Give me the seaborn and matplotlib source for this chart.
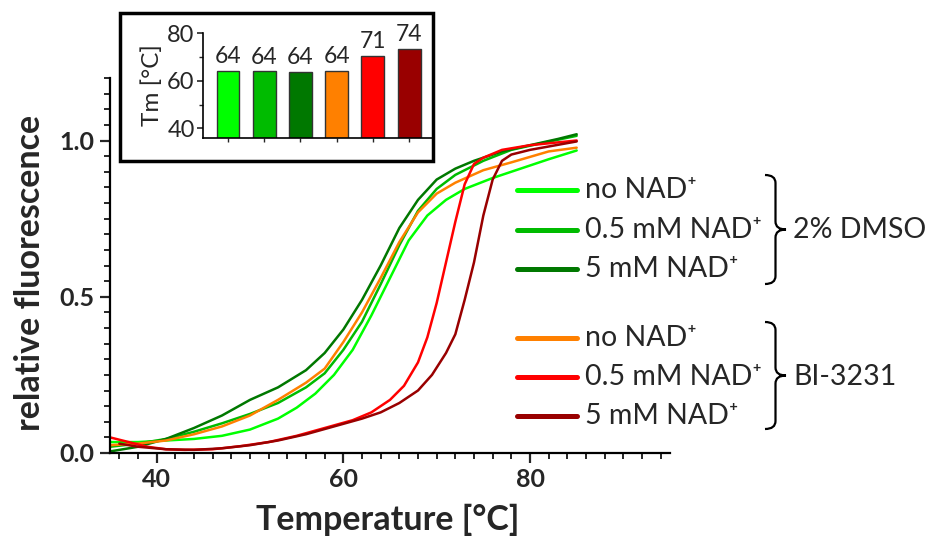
import matplotlib
matplotlib.use("Agg")
import matplotlib.pyplot as plt
from matplotlib.lines import Line2D
from matplotlib.patches import Rectangle, PathPatch
from matplotlib.path import Path
from matplotlib.ticker import MultipleLocator, NullFormatter
import pandas as pd
import seaborn as sns

# ---- melting curves (temperature in degC, relative fluorescence)
t_dmso_0 = [35, 38, 41, 44, 47, 50, 53, 55, 57, 59, 61, 63, 65, 67, 69, 71, 73, 76, 79, 82, 85]
f_dmso_0 = [0.035, 0.035, 0.04, 0.045, 0.055, 0.075, 0.11, 0.145, 0.19, 0.25, 0.33, 0.44, 0.56,
            0.68, 0.76, 0.81, 0.845, 0.88, 0.91, 0.94, 0.968]

t_dmso_05 = [35, 38, 41, 44, 47, 50, 53, 56, 58, 60, 62, 64, 66, 68, 70, 72, 75, 78, 81, 85]
f_dmso_05 = [0.02, 0.03, 0.045, 0.068, 0.095, 0.125, 0.16, 0.21, 0.255, 0.33, 0.42, 0.54, 0.665,
             0.775, 0.845, 0.89, 0.935, 0.97, 0.99, 1.015]

t_dmso_5 = [35, 38, 41, 44, 47, 50, 53, 56, 58, 60, 62, 64, 66, 68, 70, 72, 74, 77, 80, 83, 85]
f_dmso_5 = [0.005, 0.02, 0.045, 0.08, 0.12, 0.17, 0.21, 0.265, 0.32, 0.395, 0.49, 0.60, 0.72,
            0.81, 0.875, 0.91, 0.935, 0.965, 0.985, 1.005, 1.02]

t_bi_0 = [35, 38, 41, 44, 47, 50, 53, 56, 58, 60, 62, 64, 66, 68, 70, 72, 75, 78, 82, 85]
f_bi_0 = [0.025, 0.03, 0.04, 0.06, 0.085, 0.12, 0.17, 0.225, 0.27, 0.355, 0.45, 0.56, 0.675,
          0.77, 0.83, 0.865, 0.905, 0.93, 0.965, 0.977]

t_bi_05 = [35, 37, 39, 41, 43, 46, 49, 52, 55, 58, 61, 63, 65, 66.5, 68, 69, 70, 71, 72, 73,
           74, 75, 77, 80, 85]
f_bi_05 = [0.05, 0.035, 0.02, 0.012, 0.01, 0.012, 0.022, 0.035, 0.055, 0.08, 0.105, 0.13, 0.17,
           0.215, 0.29, 0.37, 0.48, 0.61, 0.74, 0.86, 0.925, 0.945, 0.97, 0.985, 1.0]

t_bi_5 = [36, 38, 41, 44, 47, 50, 53, 56, 59, 62, 64, 66, 68, 69.5, 71, 72, 73, 74, 75, 76, 77,
          78, 80, 85]
f_bi_5 = [0.03, 0.02, 0.012, 0.01, 0.015, 0.025, 0.04, 0.06, 0.085, 0.11, 0.13, 0.16, 0.2, 0.25,
          0.32, 0.38, 0.49, 0.61, 0.76, 0.875, 0.935, 0.955, 0.97, 0.997]

# ---- inset: melting temperatures
tm_values = [64.1, 63.9, 63.8, 64.1, 70.5, 73.3]
tm_labels = ["64", "64", "64", "64", "71", "74"]

series = ["DMSO no", "DMSO 0.5", "DMSO 5", "BI no", "BI 0.5", "BI 5"]
legend_text = ["no NAD\u207a", "0.5 mM NAD\u207a", "5 mM NAD\u207a"] * 2
colors = ["#00ff00", "#00bb00", "#007800", "#ff8000", "#ff0000", "#990000"]

curves = [(t_dmso_0, f_dmso_0), (t_dmso_05, f_dmso_05), (t_dmso_5, f_dmso_5),
          (t_bi_0, f_bi_0), (t_bi_05, f_bi_05), (t_bi_5, f_bi_5)]
rows = []
for name, (tt, ff) in zip(series, curves):
    for t, f in zip(tt, ff):
        rows.append({"series": name, "temp": t, "fluor": f})
df = pd.DataFrame(rows)

sns.set_style("ticks")
plt.rcParams["font.family"] = ["Lato", "DejaVu Sans"]

W, H = 930, 545
fig = plt.figure(figsize=(W / 100, H / 100), dpi=100)


def fx(x):
    return x / W


def fy(y):
    return 1 - y / H


# ---- main axes
ax = fig.add_axes([fx(110), fy(453), (670 - 110) / W, (453 - 78) / H])
sns.lineplot(data=df, x="temp", y="fluor", hue="series", hue_order=series,
             palette=colors, estimator=None, lw=1.8, legend=False, ax=ax)
ax.set_xlim(35, 95)
ax.set_ylim(0, 1.2)
ax.xaxis.set_minor_locator(MultipleLocator(2))
ax.yaxis.set_minor_locator(MultipleLocator(0.05))
ax.set_xticks([40, 60, 80])
ax.set_yticks([0, 0.5, 1.0])
ax.set_yticklabels(["0.0", "0.5", "1.0"])
for s in ["top", "right"]:
    ax.spines[s].set_visible(False)
for s in ["left", "bottom"]:
    ax.spines[s].set_linewidth(1.6)
    ax.spines[s].set_color("black")
ax.tick_params(which="major", direction="out", length=7, width=1.6, labelsize=18, pad=4)
ax.tick_params(which="minor", direction="out", length=4, width=1.4)
for lab in ax.get_xticklabels() + ax.get_yticklabels():
    lab.set_fontweight("bold")
ax.set_xlabel("")
ax.set_ylabel("")

fig.text(fx(30), fy(273), "relative fluorescence", rotation=90, ha="center", va="center",
         fontsize=24.5, fontweight="bold")
fig.text(fx(388), fy(520), "Temperature [\u00b0C]", ha="center", va="center",
         fontsize=24.5, fontweight="bold")

# ---- legend drawn by hand (two groups with braces)
row_y = [190, 230, 269, 338, 377, 416]
for y, c, txt in zip(row_y, colors, legend_text):
    fig.add_artist(Line2D([fx(517), fx(577)], [fy(y), fy(y)], color=c, lw=3.6,
                          transform=fig.transFigure))
    fig.text(fx(585), fy(y), txt, ha="left", va="center", fontsize=20.5,
             family=["Lato", "DejaVu Sans"])


def brace(x0, y_top, y_bot, w=21, r=8):
    xm = x0 + w / 2
    x1 = x0 + w
    ym = (y_top + y_bot) / 2
    pts = [(x0, y_top), (xm, y_top), (xm, y_top + r), (xm, ym - r), (xm, ym), (x1, ym),
           (xm, ym), (xm, ym + r), (xm, y_bot - r), (xm, y_bot), (x0, y_bot)]
    codes = [Path.MOVETO, Path.CURVE3, Path.CURVE3, Path.LINETO, Path.CURVE3, Path.CURVE3,
             Path.CURVE3, Path.CURVE3, Path.LINETO, Path.CURVE3, Path.CURVE3]
    p = Path([(fx(a), fy(b)) for a, b in pts], codes)
    fig.add_artist(PathPatch(p, fill=False, lw=1.6, color="black", transform=fig.transFigure))


brace(765, 175, 284)
brace(765, 322, 429)
fig.text(fx(793), fy(230), "2% DMSO", ha="left", va="center", fontsize=20.5)
fig.text(fx(793), fy(377), "BI-3231", ha="left", va="center", fontsize=20.5)

# ---- inset with melting temperatures
fig.add_artist(Rectangle((fx(120), fy(161)), (433 - 120) / W, (161 - 13) / H, fill=True,
                         facecolor="white", edgecolor="black", lw=2.5,
                         transform=fig.transFigure, zorder=3))
axi = fig.add_axes([fx(203), fy(138), (433 - 203) / W, (138 - 33) / H], zorder=4)
axi.patch.set_alpha(0)
sns.barplot(x=series, y=tm_values, hue=series, palette=colors, legend=False, width=0.63,
            saturation=1, edgecolor="#333333", linewidth=1.0, ax=axi)
axi.set_xlim(-0.69, 5.66)
axi.set_ylim(36, 80)
axi.set_yticks([40, 60, 80])
axi.yaxis.set_minor_locator(MultipleLocator(10))
axi.xaxis.set_major_formatter(NullFormatter())
for s in ["top", "right"]:
    axi.spines[s].set_visible(False)
for s in ["left", "bottom"]:
    axi.spines[s].set_linewidth(1.2)
    axi.spines[s].set_color("black")
axi.tick_params(axis="y", which="major", length=4, width=1.2, labelsize=17, pad=2)
axi.tick_params(axis="y", which="minor", length=3, width=1.0)
axi.tick_params(axis="x", length=3, width=1.0)
axi.set_ylabel("Tm [\u00b0C]", fontsize=17.5, labelpad=3)
for i, (v, lab) in enumerate(zip(tm_values, tm_labels)):
    axi.text(i, v + 1.5, lab, ha="center", va="bottom", fontsize=16.5)

fig.savefig("out.png", dpi=100)
